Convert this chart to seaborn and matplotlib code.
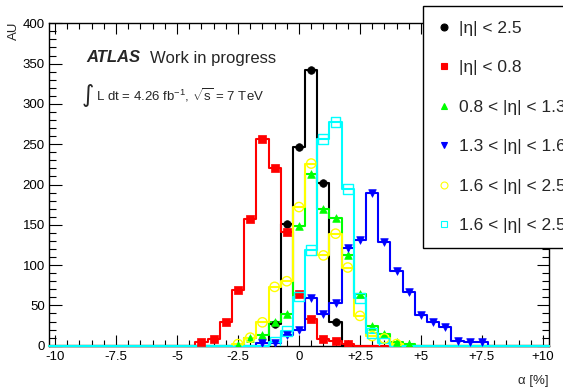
# ---------------------------------------------------
# Import Required Libraries
# ---------------------------------------------------
import numpy as np
import pandas as pd
import matplotlib
matplotlib.use("Agg")
import matplotlib.pyplot as plt
from matplotlib.lines import Line2D
from matplotlib.ticker import MultipleLocator, FixedLocator
import seaborn as sns

# ---------------------------------------------------
# Data
# ---------------------------------------------------
# 41 bins of width 0.5, centred on -10, -9.5, ..., +10
bin_centers = np.arange(-10, 10.01, 0.5)
bin_edges = [float(e) for e in np.arange(-10.25, 10.26, 0.5)]

# |eta| < 2.5
all_eta = [0, 0, 0, 0, 0, 0, 0, 0, 0, 0, 0, 0, 0, 0, 0, 0, 0, 0,
           27, 151, 247, 342, 202, 30,
           0, 0, 0, 0, 0, 0, 0, 0, 0, 0, 0, 0, 0, 0, 0, 0, 0]
# |eta| < 0.8
central = [0, 0, 0, 0, 0, 0, 0, 0, 0, 0, 0, 0,
           5, 8, 29, 69, 157, 257, 221, 141, 64, 33, 8, 6, 2,
           0, 0, 0, 0, 0, 0, 0, 0, 0, 0, 0, 0, 0, 0, 0, 0]
# 0.8 < |eta| < 1.3
barrel_out = [0, 0, 0, 0, 0, 0, 0, 0, 0, 0, 0, 0, 0, 0, 0,
              1, 9, 13, 29, 39, 149, 213, 169, 159, 112, 64, 25, 14, 4, 2,
              0, 0, 0, 0, 0, 0, 0, 0, 0, 0, 0]
# 1.3 < |eta| < 1.6
crack = [0, 0, 0, 0, 0, 0, 0, 0, 0, 0, 0, 0, 0, 0, 0, 0, 0,
         3, 3, 13, 19, 59, 39, 53, 121, 131, 190, 129, 93, 67, 38, 30, 23, 6, 4, 4,
         0, 0, 0, 0, 0]
# 1.6 < |eta| < 2.5 (circles)
endcap_a = [0, 0, 0, 0, 0, 0, 0, 0, 0, 0, 0, 0, 0, 0, 0,
            2, 10, 29, 73, 80, 172, 226, 112, 139, 97, 37, 12, 9, 2,
            0, 0, 0, 0, 0, 0, 0, 0, 0, 0, 0, 0]
# 1.6 < |eta| < 2.5 (squares)
endcap_b = [0, 0, 0, 0, 0, 0, 0, 0, 0, 0, 0, 0, 0, 0, 0, 0, 0, 0,
            5, 18, 61, 119, 256, 278, 194, 59, 16, 3,
            0, 0, 0, 0, 0, 0, 0, 0, 0, 0, 0, 0, 0]

labels = ["|η| < 2.5", "|η| < 0.8", "0.8 < |η| < 1.3",
          "1.3 < |η| < 1.6", "1.6 < |η| < 2.5", "1.6 < |η| < 2.5"]
series = [all_eta, central, barrel_out, crack, endcap_a, endcap_b]

x_ticks = [-10, -7.5, -5, -2.5, 0, 2.5, 5, 7.5, 10]
x_ticklabels = ["-10", "-7.5", "-5", "-2.5", "0", "+2.5", "+5", "+7.5", "+10"]

# ---------------------------------------------------
# Style
# ---------------------------------------------------
sns.set_style("ticks")
plt.rcParams["font.family"] = ["Liberation Sans", "DejaVu Sans"]
plt.rcParams["mathtext.fontset"] = "custom"
plt.rcParams["mathtext.rm"] = "Liberation Sans"
plt.rcParams["mathtext.it"] = "Liberation Sans:italic"

colors = ["black", "#ff0000", "#00ff00", "#0000ff", "#ffff00", "#00ffff"]
markers = ["o", "s", "^", "v", "o", "s"]
filled = [True, True, True, True, False, False]
msizes = [30, 30, 30, 30, 45, 50]

fig = plt.figure(figsize=(5.63, 3.92), dpi=100)
ax = fig.add_axes([49 / 563, 1 - 345.7 / 392, 500 / 563, 322.4 / 392])

# ---------------------------------------------------
# Step histograms + markers
# ---------------------------------------------------
for vals, c, m, f, s in zip(series, colors, markers, filled, msizes):
    df = pd.DataFrame({"x": bin_centers, "w": vals})
    sns.histplot(data=df, x="x", weights="w", bins=bin_edges,
                 element="step", fill=False, color=c, linewidth=1.5,
                 zorder=3, clip_on=False, ax=ax)
    pts = df[df["w"] > 0]
    if f:
        sns.scatterplot(data=pts, x="x", y="w", marker=m, s=s, color=c,
                        edgecolor=c, linewidth=0.5, ax=ax, zorder=4)
    else:
        sns.scatterplot(data=pts, x="x", y="w", marker=m, s=s,
                        facecolors="none", edgecolor=c, linewidth=1.0,
                        ax=ax, zorder=4)

# ---------------------------------------------------
# Axes
# ---------------------------------------------------
ax.set_xlim(-10.25, 10.25)
ax.set_ylim(0, 400)
ax.set_xlabel("")
ax.set_ylabel("")
ax.xaxis.set_major_locator(FixedLocator(x_ticks))
ax.set_xticklabels(x_ticklabels)
ax.xaxis.set_minor_locator(MultipleLocator(0.5))
ax.yaxis.set_major_locator(MultipleLocator(50))
ax.yaxis.set_minor_locator(MultipleLocator(10))
ax.tick_params(which="both", direction="in", top=True, right=True,
               labelsize=9.5, width=0.8, colors="black")
ax.tick_params(axis="x", which="major", length=8, pad=4)
ax.tick_params(axis="x", which="minor", length=4)
ax.tick_params(axis="y", which="major", length=9, pad=3)
ax.tick_params(axis="y", which="minor", length=5)
for sp in ax.spines.values():
    sp.set_visible(True)
    sp.set_linewidth(1.0)
    sp.set_color("black")

fig.text(14 / 563, 1 - 22 / 392, "AU", rotation=90, ha="center", va="top",
         fontsize=9.5)
fig.text(549 / 563, 1 - 381 / 392, "α [%]", ha="right", va="center",
         fontsize=9.5)

# ATLAS label
fig.text(86 / 563, 1 - 58 / 392, "ATLAS", fontsize=12, fontweight="bold",
         fontstyle="italic", va="center")
fig.text(150 / 563, 1 - 58 / 392, "Work in progress", fontsize=12,
         va="center")
fig.text(82 / 563, 1 - 95 / 392, "∫", fontsize=17, va="center",
         family=["DejaVu Sans"])
fig.text(96 / 563, 1 - 95 / 392,
         r"L dt = 4.26 fb$^{-1}$, $\sqrt{\mathrm{s}}$ = 7 TeV",
         fontsize=9.5, va="center")

# ---------------------------------------------------
# Legend (sticks out past the right edge, like the reference)
# ---------------------------------------------------
handles = []
for c, m, f in zip(colors, markers, filled):
    handles.append(Line2D([], [], linestyle="none", marker=m, markersize=5,
                          markerfacecolor=c if f else "none",
                          markeredgecolor=c, markeredgewidth=0.8))
leg = fig.legend(handles, labels, loc="upper left",
                 bbox_to_anchor=(423 / 563, 1 - 6 / 392),
                 fontsize=12.5, frameon=True, fancybox=False,
                 edgecolor="black", framealpha=1, labelspacing=1.4,
                 borderpad=0.85, handlelength=0.7, handletextpad=0.5,
                 borderaxespad=0)
leg.get_frame().set_linewidth(1.0)

fig.savefig("out.png", dpi=100)
